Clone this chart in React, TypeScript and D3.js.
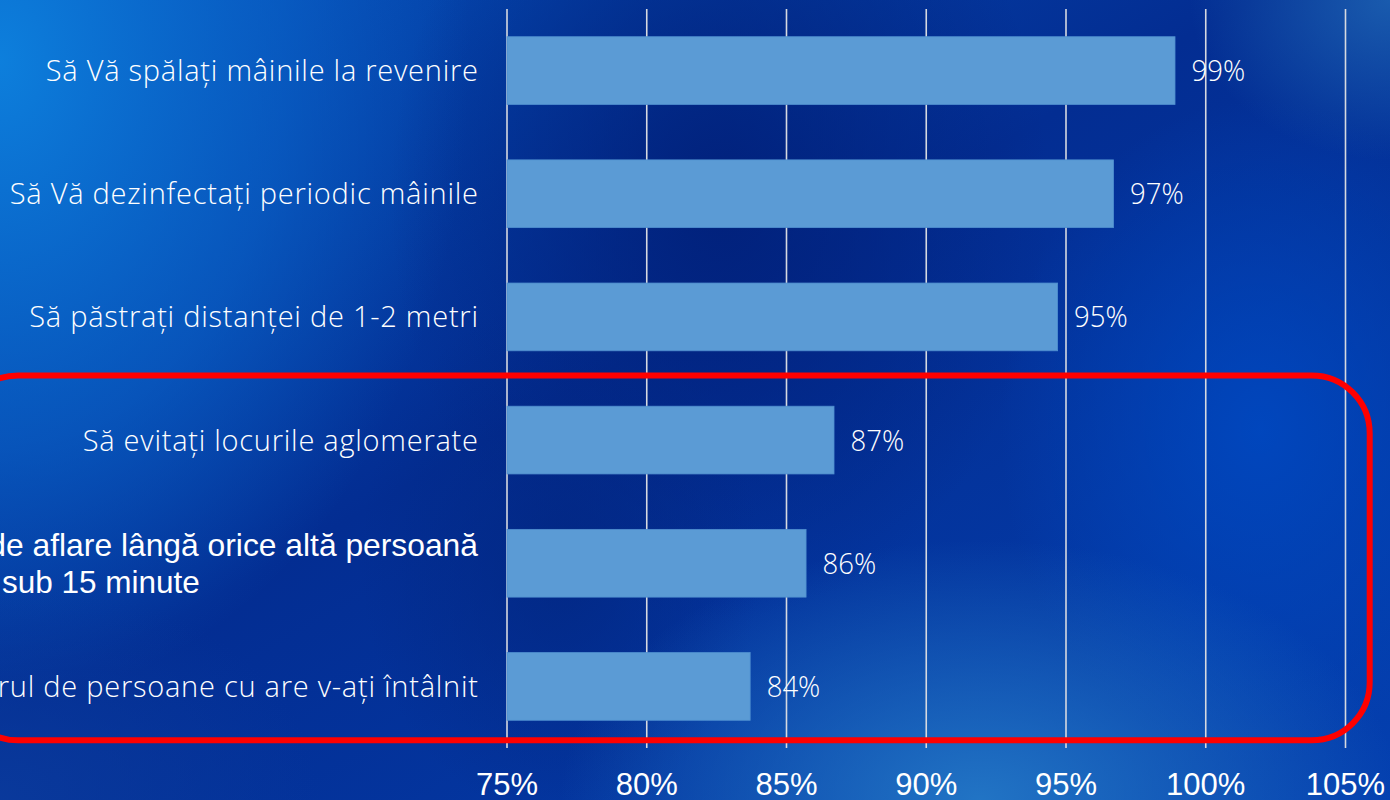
import React from "react";
import * as d3 from "d3";

const categories = [
  "Să Vă spălați mâinile la revenire",
  "Să Vă dezinfectați periodic mâinile",
  "Să păstrați distanței de 1-2 metri",
  "Să evitați locurile aglomerate",
  "Durata de aflare lângă orice altă persoană|sub 15 minute",
  "Să limitați numărul de persoane cu are v-ați întâlnit",
];
const values = [98.9, 96.7, 94.7, 86.7, 85.7, 83.7];
const valueLabels = ["99%", "97%", "95%", "87%", "86%", "84%"];
const ticks = [75, 80, 85, 90, 95, 100, 105];
const tickLabels = ["75%", "80%", "85%", "90%", "95%", "100%", "105%"];
const highlighted = [3, 4, 5];

const W = 1390;
const H = 800;

export default function App() {
  const x = d3.scaleLinear().domain([75, 105]).range([507, 1345.5]);
  const y = d3
    .scaleBand<string>()
    .domain(categories)
    .range([9, 748])
    .paddingInner(0.45)
    .paddingOuter(0.225);
  const bw = y.bandwidth();
  const labelFont = "'Open Sans', 'DejaVu Sans', sans-serif";
  const arial = "'Liberation Sans', Arial, sans-serif";

  const hlTop = (y(categories[highlighted[0]]) as number) - 30.8;
  const hlBottom =
    (y(categories[highlighted[highlighted.length - 1]]) as number) + bw + 20;

  return (
    <svg
      width={W}
      height={H}
      style={{ position: "absolute", left: 0, top: 0, display: "block" }}
    >
      <defs>
        <linearGradient id="base" x1="0" y1="0" x2="1" y2="1">
          <stop offset="0" stopColor="#0550b8" />
          <stop offset="0.45" stopColor="#032d92" />
          <stop offset="1" stopColor="#0440b0" />
        </linearGradient>
        <radialGradient id="tl" cx="0" cy="0" r="1" gradientUnits="userSpaceOnUse"
          gradientTransform="translate(0,60) scale(470,640)">
          <stop offset="0" stopColor="#0d7fdc" stopOpacity="1" />
          <stop offset="0.6" stopColor="#0a66cc" stopOpacity="0.6" />
          <stop offset="1" stopColor="#0a60c8" stopOpacity="0" />
        </radialGradient>
        <radialGradient id="dark" cx="0" cy="0" r="1" gradientUnits="userSpaceOnUse"
          gradientTransform="translate(720,200) scale(330,420)">
          <stop offset="0" stopColor="#01207a" stopOpacity="0.95" />
          <stop offset="1" stopColor="#01207a" stopOpacity="0" />
        </radialGradient>
        <radialGradient id="dark2" cx="0" cy="0" r="1" gradientUnits="userSpaceOnUse"
          gradientTransform="translate(560,560) scale(200,260)">
          <stop offset="0" stopColor="#022681" stopOpacity="0.8" />
          <stop offset="1" stopColor="#022681" stopOpacity="0" />
        </radialGradient>
        <radialGradient id="bot" cx="0" cy="0" r="1" gradientUnits="userSpaceOnUse"
          gradientTransform="translate(980,800) scale(420,260)">
          <stop offset="0" stopColor="#2377c6" stopOpacity="0.95" />
          <stop offset="1" stopColor="#2377c6" stopOpacity="0" />
        </radialGradient>
        <radialGradient id="right" cx="0" cy="0" r="1" gradientUnits="userSpaceOnUse"
          gradientTransform="translate(1260,430) scale(260,330)">
          <stop offset="0" stopColor="#0048c0" stopOpacity="0.9" />
          <stop offset="1" stopColor="#0048c0" stopOpacity="0" />
        </radialGradient>
        <radialGradient id="tr" cx="0" cy="0" r="1" gradientUnits="userSpaceOnUse"
          gradientTransform="translate(1390,0) scale(200,160)">
          <stop offset="0" stopColor="#1f66b4" stopOpacity="0.8" />
          <stop offset="1" stopColor="#1f66b4" stopOpacity="0" />
        </radialGradient>
        <radialGradient id="bl" cx="0" cy="0" r="1" gradientUnits="userSpaceOnUse"
          gradientTransform="translate(0,800) scale(320,220)">
          <stop offset="0" stopColor="#0a3a9c" stopOpacity="0.9" />
          <stop offset="1" stopColor="#0a3a9c" stopOpacity="0" />
        </radialGradient>
      </defs>

      <rect x={0} y={0} width={W} height={H} fill="url(#base)" />
      <rect x={0} y={0} width={W} height={H} fill="url(#tl)" />
      <rect x={0} y={0} width={W} height={H} fill="url(#dark)" />
      <rect x={0} y={0} width={W} height={H} fill="url(#dark2)" />
      <rect x={0} y={0} width={W} height={H} fill="url(#right)" />
      <rect x={0} y={0} width={W} height={H} fill="url(#bot)" />
      <rect x={0} y={0} width={W} height={H} fill="url(#tr)" />
      <rect x={0} y={0} width={W} height={H} fill="url(#bl)" />

      {/* gridlines */}
      {ticks.map((t) => (
        <line
          key={t}
          x1={x(t)}
          x2={x(t)}
          y1={9}
          y2={748}
          stroke="#d6d9e0"
          strokeWidth={1.6}
        />
      ))}

      {/* bars */}
      {categories.map((c, i) => (
        <rect
          key={c}
          x={x(75)}
          y={y(c)}
          width={x(values[i]) - x(75)}
          height={bw}
          fill="#5b9bd5"
          stroke="#4f8fd0"
          strokeWidth={0.8}
        />
      ))}

      {/* value labels */}
      {categories.map((c, i) => (
        <g
          key={"v" + c}
          transform={`translate(${x(values[i]) + 16.5},${(y(c) as number) + bw / 2 + 10.5}) scale(0.95,1)`}
        >
          <text x={0} y={0} fill="#ffffff" fontFamily={labelFont} fontWeight={300} fontSize={29}>
            {valueLabels[i]}
          </text>
        </g>
      ))}

      {/* category labels */}
      {categories.map((c, i) => {
        const cy = (y(c) as number) + bw / 2;
        if (c.includes("|")) {
          const [l1, l2] = c.split("|");
          return (
            <g key={"c" + c}>
              <text
                x={x(75) - 29}
                y={cy - 7.5}
                textAnchor="end"
                fill="#ffffff"
                fontFamily={arial}
                fontSize={31.8}
              >
                {l1}
              </text>
              <text
                x={2}
                y={cy + 30}
                textAnchor="start"
                fill="#ffffff"
                fontFamily={arial}
                fontSize={31.5}
              >
                {l2}
              </text>
            </g>
          );
        }
        return (
          <text
            key={"c" + c}
            x={x(75) - 28.3}
            y={cy + 10.5}
            textAnchor="end"
            fill="#ffffff"
            fontFamily={labelFont}
            fontWeight={300}
            fontSize={29}
            letterSpacing={0.75}
          >
            {c}
          </text>
        );
      })}

      {/* highlight box */}
      <rect
        x={-40}
        y={hlTop}
        width={1369.7 + 40}
        height={hlBottom - hlTop}
        rx={58}
        ry={58}
        fill="none"
        stroke="#ff0000"
        strokeWidth={6}
      />

      {/* tick labels */}
      {ticks.map((t, i) => (
        <text
          key={"t" + t}
          x={x(t)}
          y={795}
          textAnchor="middle"
          fill="#ffffff"
          fontFamily={arial}
          fontSize={31}
        >
          {tickLabels[i]}
        </text>
      ))}
    </svg>
  );
}
